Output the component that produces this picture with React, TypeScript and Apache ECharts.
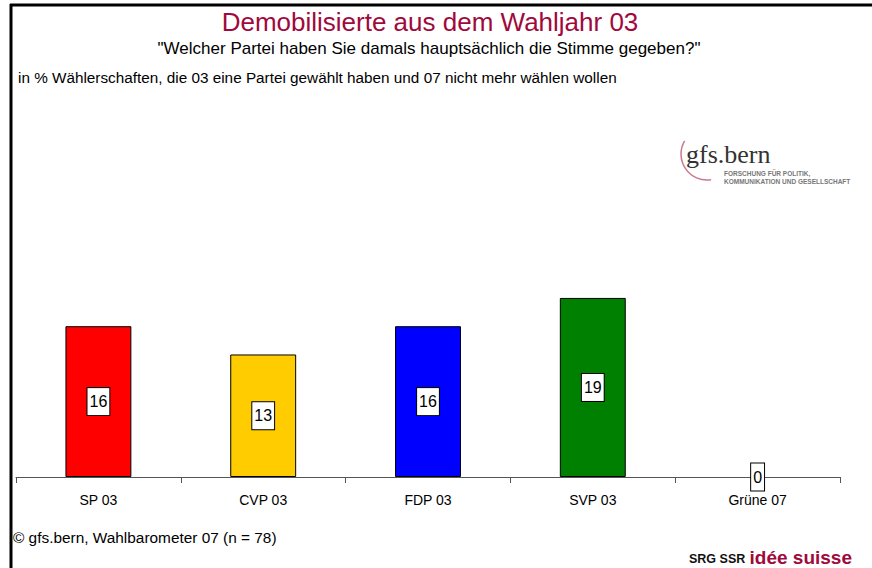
import React, { useEffect, useRef } from "react";
import * as echarts from "echarts";

const categories = ["SP 03", "CVP 03", "FDP 03", "SVP 03", "Grüne 07"];
const values = [16, 13, 16, 19, 0];
const colors = ["#ff0000", "#ffcc00", "#0000ff", "#008000", "#339933"];

const titleText = "Demobilisierte aus dem Wahljahr 03";
const subtitleText = '"Welcher Partei haben Sie damals hauptsächlich die Stimme gegeben?"';
const noteText = "in % Wählerschaften, die 03 eine Partei gewählt haben und 07 nicht mehr wählen wollen";
const sourceText = "© gfs.bern, Wahlbarometer 07 (n = 78)";

const FONT = "'Liberation Sans', Arial, sans-serif";
const SERIF = "'Liberation Serif', 'DejaVu Serif', serif";

export default function App() {
  const ref = useRef<HTMLDivElement>(null);
  useEffect(() => {
    document.body.style.margin = "0";
    const chart = echarts.init(ref.current!, null, { renderer: "svg" });
    chart.setOption({
      animation: false,
      backgroundColor: "#ffffff",
      textStyle: { fontFamily: FONT },
      grid: { left: 16, right: 32, top: 100, bottom: 91, containLabel: false },
      xAxis: {
        type: "category",
        data: categories,
        axisLine: { lineStyle: { color: "#555", width: 1 } },
        axisTick: { show: true, length: 6, inside: false, lineStyle: { color: "#555" } },
        axisLabel: { color: "#000", fontSize: 14, margin: 16, fontFamily: FONT },
      },
      yAxis: {
        type: "value",
        min: 0,
        max: 40,
        show: false,
        splitLine: { show: false },
      },
      series: [
        {
          type: "bar",
          data: values.map((v, i) => ({
            value: v,
            itemStyle: { color: colors[i], borderWidth: v === 0 ? 0 : 1 },
          })),
          barWidth: "40%",
          itemStyle: { borderColor: "#000", borderWidth: 1 },
          label: {
            show: true,
            position: "inside",
            color: "#000",
            fontSize: 16,
            fontFamily: FONT,
            backgroundColor: "#fff",
            borderColor: "#000",
            borderWidth: 1,
            padding: [6, 2, 5, 2],
          },
        },
      ],
      graphic: [
        { type: "line", shape: { x1: 10, y1: 5, x2: 872, y2: 5 }, style: { stroke: "#000", lineWidth: 3 } },
        { type: "line", shape: { x1: 11, y1: 4, x2: 11, y2: 568 }, style: { stroke: "#000", lineWidth: 3 } },
        {
          type: "text",
          x: 430,
          y: 22,
          style: { text: titleText, fill: "#a0093c", font: `26px ${FONT}`, textAlign: "center", textVerticalAlign: "middle" },
        },
        {
          type: "text",
          x: 429,
          y: 48,
          style: { text: subtitleText, fill: "#000", font: `17px ${FONT}`, textAlign: "center", textVerticalAlign: "middle" },
        },
        {
          type: "text",
          x: 18,
          y: 77,
          style: { text: noteText, fill: "#000", font: `15.3px ${FONT}`, textAlign: "left", textVerticalAlign: "middle" },
        },
        {
          type: "text",
          x: 13,
          y: 537,
          style: { text: sourceText, fill: "#000", font: `15.4px ${FONT}`, textAlign: "left", textVerticalAlign: "middle" },
        },
        {
          type: "arc",
          shape: { cx: 707, cy: 154, r: 26, startAngle: Math.PI * 0.45, endAngle: Math.PI * 1.17, clockwise: true },
          style: { stroke: "#c97a90", lineWidth: 1.5, fill: null },
        },
        {
          type: "text",
          x: 686,
          y: 154,
          style: { text: "gfs.bern", fill: "#333", font: `26px ${SERIF}`, textAlign: "left", textVerticalAlign: "middle" },
        },
        {
          type: "text",
          x: 724,
          y: 173,
          style: { text: "FORSCHUNG FÜR POLITIK,", fill: "#777", font: `bold 6.5px ${FONT}`, textAlign: "left", textVerticalAlign: "middle" },
        },
        {
          type: "text",
          x: 724,
          y: 181,
          style: { text: "KOMMUNIKATION UND GESELLSCHAFT", fill: "#777", font: `bold 6.5px ${FONT}`, textAlign: "left", textVerticalAlign: "middle" },
        },
        {
          type: "text",
          x: 689,
          y: 559,
          style: { text: "SRG SSR", fill: "#111", font: `bold 12.5px ${FONT}`, textAlign: "left", textVerticalAlign: "middle" },
        },
        {
          type: "text",
          x: 852,
          y: 557,
          style: { text: "idée suisse", fill: "#a0093c", font: `bold 19px ${FONT}`, textAlign: "right", textVerticalAlign: "middle" },
        },
      ],
    });
    return () => chart.dispose();
  }, []);
  return <div ref={ref} style={{ width: 872, height: 568 }} />;
}
